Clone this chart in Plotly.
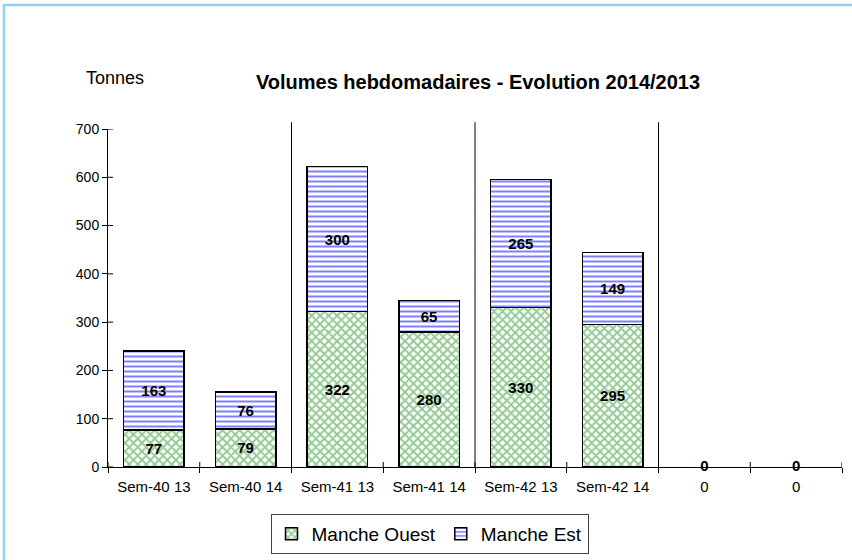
import plotly.graph_objects as go

categories = ["Sem-40 13", "Sem-40 14", "Sem-41 13", "Sem-41 14", "Sem-42 13", "Sem-42 14", "0", "0 "]
tick_labels = ["Sem-40 13", "Sem-40 14", "Sem-41 13", "Sem-41 14", "Sem-42 13", "Sem-42 14", "0", "0"]
manche_ouest = [77, 79, 322, 280, 330, 295, 0, 0]
manche_est = [163, 76, 300, 65, 265, 149, 0, 0]
y_ticks = [0, 100, 200, 300, 400, 500, 600, 700]
group_separators = [1.5, 3.5, 5.5]

W, H = 852, 560
L, R, T, B = 108, 10, 129, 93
pw, ph = W - L - R, H - T - B

font = "Liberation Sans, Arial, sans-serif"
label_font = dict(family=font, size=15, color="black")

fig = go.Figure()
fig.add_trace(go.Bar(
    x=categories, y=manche_ouest, name="Manche Ouest",
    marker=dict(color="white",
                line=dict(color="black", width=[1.5 if v else 0 for v in manche_ouest]),
                pattern=dict(shape="x", fgcolor="#2a952a", bgcolor="white", size=6, solidity=0.55)),
    text=[v if v else "" for v in manche_ouest], texttemplate="<b>%{text}</b>", textposition="inside",
    insidetextanchor="middle", textangle=0,
    textfont=label_font, width=0.66,
))
fig.add_trace(go.Bar(
    x=categories, y=manche_est, name="Manche Est",
    marker=dict(color="white",
                line=dict(color="black", width=[1.5 if v else 0 for v in manche_est]),
                pattern=dict(shape="-", fgcolor="#0000ff", bgcolor="white", size=5, solidity=0.4)),
    text=[v if v else "" for v in manche_est], texttemplate="<b>%{text}</b>", textposition="inside",
    insidetextanchor="middle", textangle=0,
    textfont=label_font, width=0.66,
))
# labels for zero-height bars (drawn at the baseline)
zero_x = [c for c, a, b in zip(categories, manche_ouest, manche_est) if a == 0 and b == 0]
fig.add_trace(go.Scatter(
    x=zero_x, y=[0] * len(zero_x), mode="text", text=["<b>0</b>"] * len(zero_x),
    textposition="middle center", textfont=label_font, showlegend=False, hoverinfo="skip",
    cliponaxis=False,
))

for s in group_separators:
    fig.add_shape(type="line", xref="x", yref="paper", x0=s, x1=s, y0=0, y1=1.02,
                  line=dict(color="black", width=1))

# inner half of the crossing ticks
for v in y_ticks:
    fig.add_shape(type="line", xref="paper", yref="y", x0=0, x1=5 / pw, y0=v, y1=v,
                  line=dict(color="black", width=1))
for i in range(len(categories) + 1):
    b = i - 0.5
    fig.add_shape(type="line", xref="x", yref="paper", x0=b, x1=b, y0=0, y1=5 / ph,
                  line=dict(color="black", width=1))

# outer border (cropped on right/bottom)
fig.add_shape(type="rect", xref="paper", yref="paper",
              x0=(4 - L) / pw, x1=(W + 10 - L) / pw,
              y0=-(H + 10 - T - ph) / ph, y1=1 + (T - 5) / ph,
              line=dict(color="#8fd3ef", width=2.5), layer="below")

fig.update_layout(
    width=W, height=H, barmode="stack", bargap=0.34,
    margin=dict(l=L, r=R, t=T, b=B, autoexpand=False),
    paper_bgcolor="white", plot_bgcolor="white",
    font=dict(family=font, size=15, color="black"),
    title=dict(text="<b>Volumes hebdomadaires - Evolution 2014/2013</b>",
               x=478 / W, xanchor="center", y=1 - 82 / H, yanchor="middle",
               font=dict(size=20)),
    xaxis=dict(type="category", categoryorder="array", categoryarray=categories,
               tickvals=categories, ticktext=tick_labels,
               tickson="boundaries", ticks="outside", ticklen=5, tickcolor="black",
               showline=True, linecolor="black", linewidth=1, showgrid=False,
               range=[-0.5, 7.5], tickfont=dict(size=15), ticklabelstandoff=6),
    yaxis=dict(range=[0, 700], tickvals=y_ticks, ticks="outside", ticklen=5,
               tickcolor="black", showline=True, linecolor="black", linewidth=1,
               showgrid=False, zeroline=False, tickfont=dict(size=14)),
    legend=dict(orientation="h", x=(429.5 - L) / pw, xanchor="center",
                yref="container", y=1 - 534 / H, yanchor="middle", traceorder="normal",
                bordercolor="#444", borderwidth=1, bgcolor="white",
                font=dict(size=19), itemwidth=30),
    annotations=[dict(text="Tonnes", xref="paper", yref="paper", x=(84 - L) / pw, xanchor="left",
                      y=1 + (T - 78) / ph, yanchor="middle", showarrow=False, font=dict(size=18))],
)

fig.write_html("out.html", post_script="document.body.style.margin='0';",
               config={"displayModeBar": False})
